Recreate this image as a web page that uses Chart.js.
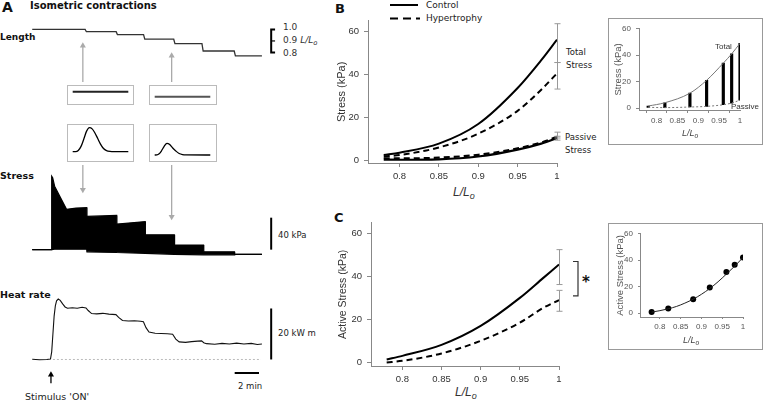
<!DOCTYPE html>
<html>
<head>
<meta charset="utf-8">
<script src="https://cdn.jsdelivr.net/npm/chart.js@4.4.0/dist/chart.umd.min.js"></script>
<style>
html, body { margin: 0; padding: 0; background: #fff; }
#fig { position: relative; width: 763px; height: 403px; overflow: hidden; font-family: "DejaVu Sans", sans-serif; color: #111; }
#fig canvas { position: absolute; }
.t { position: absolute; line-height: 1; white-space: nowrap; transform: translateY(-50%); }
.b { font-weight: bold; }
.ar { font-family: "Liberation Sans", Arial, sans-serif; }
.box { position: absolute; border: 1px solid #bbb; box-sizing: border-box; }
.inset { position: absolute; border: 1px solid #999; box-sizing: border-box; }
sub { font-size: 0.75em; vertical-align: -0.3em; line-height: 0; }
</style>
</head>
<body>
<div id="fig">
  <!-- panel A -->
  <div class="t b" style="left:2px;top:7px;font-size:14px;">A</div>
  <div class="t b" style="left:30px;top:6px;font-size:10px;">Isometric contractions</div>
  <div class="t b" style="left:0;top:37px;font-size:9px;">Length</div>
  <div class="t b" style="left:0;top:176px;font-size:9.5px;">Stress</div>
  <div class="t b" style="left:0;top:295px;font-size:9.5px;">Heat rate</div>
  <div class="t" style="left:283px;top:27px;font-size:9px;color:#333;">1.0</div>
  <div class="t" style="left:283px;top:40px;font-size:9px;color:#333;">0.9 <i>L/L<sub>o</sub></i></div>
  <div class="t" style="left:283px;top:53px;font-size:9px;color:#333;">0.8</div>
  <div class="t" style="left:278px;top:235px;font-size:8.5px;color:#222;">40 kPa</div>
  <div class="t" style="left:278px;top:333px;font-size:8.5px;color:#222;">20 kW m</div>
  <div class="t" style="left:238px;top:386px;font-size:8.5px;color:#222;">2 min</div>
  <div class="t" style="left:25px;top:397px;font-size:9.5px;color:#222;">Stimulus 'ON'</div>

  <div class="box" style="left:67px;top:85px;width:67px;height:20px;"></div>
  <div class="box" style="left:149px;top:85px;width:68px;height:20px;"></div>
  <div class="box" style="left:67px;top:124px;width:67px;height:38px;"></div>
  <div class="box" style="left:149px;top:124px;width:68px;height:38px;"></div>

  <canvas id="lenChart" width="300" height="72" style="left:0;top:15px;"></canvas>
  <canvas id="stressChart" width="300" height="105" style="left:0;top:160px;"></canvas>
  <canvas id="heatChart" width="300" height="110" style="left:0;top:285px;"></canvas>
  <canvas id="lenBox1" width="65" height="18" style="left:68px;top:86px;"></canvas>
  <canvas id="lenBox2" width="66" height="18" style="left:150px;top:86px;"></canvas>
  <canvas id="twitch1" width="65" height="36" style="left:68px;top:125px;"></canvas>
  <canvas id="twitch2" width="66" height="36" style="left:150px;top:125px;"></canvas>

  <!-- panel B -->
  <div class="t b" style="left:335px;top:8px;font-size:13px;">B</div>
  <svg style="position:absolute;left:388px;top:0;" width="34" height="24">
    <line x1="2" y1="5" x2="30" y2="5" stroke="#000" stroke-width="2"/>
    <line x1="2" y1="18.5" x2="32" y2="18.5" stroke="#000" stroke-width="2" stroke-dasharray="8,5"/>
  </svg>
  <div class="t" style="left:426px;top:5px;font-size:9px;color:#222;">Control</div>
  <div class="t" style="left:426px;top:18px;font-size:9px;color:#222;">Hypertrophy</div>
  <div class="t" style="left:566px;top:52px;font-size:8.5px;color:#222;">Total</div>
  <div class="t" style="left:566px;top:65px;font-size:8.5px;color:#222;">Stress</div>
  <div class="t" style="left:565px;top:137px;font-size:8.5px;color:#222;">Passive</div>
  <div class="t" style="left:565px;top:150px;font-size:8.5px;color:#222;">Stress</div>
  <div class="t ar" style="left:453px;top:192px;font-size:12px;color:#333;"><i>L/L<sub>o</sub></i></div>
  <canvas id="bChart" width="245" height="190" style="left:320px;top:10px;"></canvas>

  <div class="inset" style="left:608px;top:18px;width:155px;height:127px;"></div>
  <canvas id="bInset" width="153" height="125" style="left:609px;top:19px;"></canvas>
  <div class="t ar" style="left:715px;top:47px;font-size:8px;color:#333;">Total</div>
  <div class="t ar" style="left:731px;top:107px;font-size:8px;color:#333;">Passive</div>
  <div class="t ar" style="left:682px;top:133px;font-size:9px;color:#444;"><i>L/L<sub>o</sub></i></div>

  <!-- panel C -->
  <div class="t b" style="left:334px;top:217px;font-size:13px;">C</div>
  <div class="t b" style="left:582px;top:282px;font-size:15px;">*</div>
  <div class="t ar" style="left:455px;top:392px;font-size:12px;color:#333;"><i>L/L<sub>o</sub></i></div>
  <canvas id="cChart" width="275" height="190" style="left:320px;top:212px;"></canvas>

  <div class="inset" style="left:608px;top:223px;width:155px;height:127px;"></div>
  <canvas id="cInset" width="153" height="125" style="left:609px;top:224px;"></canvas>
  <div class="t ar" style="left:683px;top:340px;font-size:9px;color:#444;"><i>L/L<sub>o</sub></i></div>
</div>

<script>
// ---- panel A : time course (minutes) ----
const lengthT = [0, 4.35, 4.45, 6.9, 7.0, 9.15, 9.25, 11.63, 11.73, 13.95, 14.05, 16.6, 16.7, 18.88];
const lengthL = [1.0, 1.0, 0.98, 0.98, 0.955, 0.955, 0.915, 0.915, 0.877, 0.877, 0.813, 0.813, 0.77, 0.77];

const stressTopT = [0, 1.55, 1.6, 1.68, 1.84, 2.82, 3.6, 4.48, 4.5, 6.94, 6.96, 9.28, 9.3, 11.68, 11.7, 14.08, 14.1, 16.62, 16.64, 18.88];
const stressTopV = [0, 0, 91.8, 90, 79.4, 50.5, 52.0, 52.5, 41.6, 42.8, 32.0, 35.1, 18.5, 18.5, 5.8, 5.8, -2.7, -2.7, -5.8, -5.8];
const stressBaseT = [0, 1.6, 1.84, 4.48, 4.5, 6.94, 6.96, 9.28, 11.68, 14.08, 16.62, 16.64, 18.88];
const stressBaseV = [0, 0, 0.5, 0.5, -2.7, -3.5, -3.6, -4.6, -5.8, -6.5, -6.5, -5.8, -5.8];

const heatT = [0, 0.6, 1.2, 1.5, 1.6, 1.7, 1.8, 1.9, 2.0, 2.14, 2.3, 2.5, 2.7, 2.9, 3.3, 3.7, 4.1, 4.42, 4.6, 4.88,
  5.3, 5.8, 6.3, 6.88, 7.1, 7.42, 7.9, 8.4, 8.9, 9.14, 9.35, 9.6, 10.1, 10.6, 11.1, 11.54, 11.8, 12.08,
  12.6, 13.1, 13.6, 13.92, 14.1, 14.32, 15.0, 15.6, 16.2, 16.8, 17.4, 18.0, 18.5, 18.88];
const heatV = [0.1, -0.1, 0.0, 0.2, 3, 10, 17, 21, 23, 23.7, 23.2, 21.8, 20.6, 20.1, 20.3, 20.1, 20.5, 20.2, 19.2, 18.0,
  17.9, 18.1, 17.8, 17.6, 16.5, 15.3, 15.1, 15.2, 15.0, 14.8, 12.5, 10.8, 10.3, 10.2, 10.1, 9.9, 8.0, 6.9,
  6.7, 7.0, 7.2, 7.3, 6.6, 6.2, 6.0, 6.3, 6.1, 6.4, 6.1, 6.3, 5.9, 6.1];

// scale bars and annotations of panel A
const scaleBarT = 19.64;
const lengthBar = [0.8, 0.9, 1.0];
const stressBar = [0, 40];
const heatBar = [0, 20];
const timeBar = [16.64, 18.64];
const stimulusT = 1.54;
const arrowT = [4.16, 11.46];

// insets of panel A: single contractions (time 0..1 s)
const boxLength = [1.0, 0.915];
const twitchT1 = [0, 0.05, 0.10, 0.15, 0.20, 0.25, 0.30, 0.35, 0.40, 0.45, 0.50, 0.55, 0.60, 0.67, 0.75, 1.0];
const twitchV1 = [0.5, 0.6, 3, 12, 28, 45, 52.5, 50, 41, 29, 17, 8, 3.5, 1, 0.5, 0.5];
const twitchT2 = [0, 0.04, 0.08, 0.12, 0.17, 0.22, 0.27, 0.32, 0.38, 0.44, 0.50, 0.56, 1.0];
const twitchV2 = [-6.65, -6.4, -4, 2, 12, 18.7, 16, 9, 2, -3.5, -5.8, -6.5, -6.65];

// ---- panel B / C : stress vs length ----
const lengthX = [0.78, 0.80, 0.85, 0.90, 0.95, 0.98, 1.00];
const ctrlTotal = [2.7, 3.8, 8.0, 17.1, 33.8, 46.7, 56.2];
const hypTotal = [2.0, 2.7, 6.2, 12.6, 23.2, 33.0, 40.6];
const ctrlPassive = [0.6, 0.5, 0.7, 2.0, 5.2, 8.0, 10.5];
const hypPassive = [1.2, 1.1, 1.5, 2.8, 5.8, 8.5, 11.2];
const ctrlActive = [1.5, 3.2, 8.3, 17.1, 30.1, 39.4, 45.6];
const hypActive = [0.1, 0.9, 4.3, 10.2, 18.6, 25.5, 29.1];

const totalErrLow = [45.6, 33.3], totalErrHigh = [63.6, 45.6];
const passiveErrLow = [9.6, 10.6], passiveErrHigh = [11.4, 13.3];
const activeErrLow = [36.3, 23.9], activeErrHigh = [52.5, 33.6];
const sigTop = 47, sigBottom = 31;

// insets: single muscle
const stepL = [0.78, 0.82, 0.88, 0.92, 0.96, 0.98, 1.0];
const stepTotal = [1.5, 4, 11.25, 21, 34, 41, 49];
const stepPassive = [0.5, 0.3, 0.75, 1.25, 2.5, 3.75, 6];
const stepActive = [0.75, 3.5, 10.5, 19.25, 31, 36.5, 42];
const fitL = [0.78, 0.80, 0.82, 0.84, 0.86, 0.88, 0.90, 0.92, 0.94, 0.96, 0.98, 1.00];
const fitActive = [0.7, 1.8, 3.2, 5.0, 7.5, 10.5, 14.2, 18.6, 23.7, 29.5, 35.5, 42.0];

function pts(xs, ys) { return xs.map((x, i) => ({ x: x, y: ys[i] })); }
function line(data, o) {
    return Object.assign({ type: 'line', data: data, borderColor: '#000', borderWidth: 1.5,
        pointRadius: 0, fill: false, tension: 0 }, o || {});
}
function bare(xMin, xMax, yMin, yMax) {
    return {
        responsive: false, animation: false, events: [],
        layout: { padding: 0 },
        plugins: { legend: { display: false }, tooltip: { enabled: false } },
        scales: {
            x: { type: 'linear', display: false, min: xMin, max: xMax },
            y: { type: 'linear', display: false, min: yMin, max: yMax }
        }
    };
}
function draw(id, datasets, options, plugins) {
    new Chart(document.getElementById(id), { type: 'line', data: { datasets: datasets }, options: options, plugins: plugins || [] });
}

const tMin = -2.32, tMax = 21.68; // 12.5 px per minute
const grey = '#aaa';
function arrow(x, y0, y1, rot, color) {
    return line(pts([x, x], [y0, y1]), { borderColor: color, borderWidth: 1.3, pointRadius: [0, 3.5],
        pointStyle: 'triangle', pointRotation: rot, pointBackgroundColor: color, pointBorderWidth: 0 });
}

// Length trace
draw('lenChart', [
    line(pts(lengthT, lengthL), { borderColor: '#333', borderWidth: 1.3 }),
    line(pts([scaleBarT + 0.32, scaleBarT, scaleBarT, scaleBarT + 0.32], [lengthBar[2], lengthBar[2], lengthBar[0], lengthBar[0]]), { borderWidth: 2 }),
    line(pts([scaleBarT, scaleBarT + 0.32], [lengthBar[1], lengthBar[1]]), { borderWidth: 1.2 }),
    arrow(arrowT[0], 0.544, 0.859, 0, grey),
    arrow(arrowT[1], 0.544, 0.771, 0, grey)
], bare(tMin, tMax, 0.536, 1.09));

// Stress trace
draw('stressChart', [
    line(pts(stressBaseT, stressBaseV), { borderWidth: 1.2 }),
    line(pts(stressTopT, stressTopV), { borderWidth: 1.2, fill: '-1', backgroundColor: '#000' }),
    line(pts([scaleBarT, scaleBarT], stressBar), { borderWidth: 2 }),
    arrow(arrowT[0], 106, 74.8, 180, grey),
    arrow(arrowT[1], 106, 41.3, 180, grey)
], bare(tMin, tMax, -14.2, 107.17));

// Heat rate trace
draw('heatChart', [
    line(pts([1.7, 18.8], [0, 0]), { borderColor: '#bbb', borderWidth: 1, borderDash: [2, 2] }),
    line(pts(heatT, heatV), { borderWidth: 1.1, borderColor: '#111' }),
    line(pts([scaleBarT, scaleBarT], heatBar), { borderWidth: 2 }),
    line(pts(timeBar, [-5.3, -5.3]), { borderWidth: 2 }),
    arrow(stimulusT, -9.35, -6.0, 0, '#000')
], bare(tMin, tMax, -12.36, 27.64));

// single contraction boxes
draw('lenBox1', [line(pts([0, 1], [boxLength[0], boxLength[0]]), { borderColor: '#222', borderWidth: 2 })], bare(-0.0845, 1.0845, 0.791, 1.097));
draw('lenBox2', [line(pts([0, 1], [boxLength[1], boxLength[1]]), { borderColor: '#555', borderWidth: 2 })], bare(-0.0845, 1.1025, 0.791, 1.097));
draw('twitch1', [line(pts(twitchT1, twitchV1), { borderWidth: 1.3, cubicInterpolationMode: 'monotone' })], bare(-0.0845, 1.0845, -19.65, 58.35));
draw('twitch2', [line(pts(twitchT2, twitchV2), { borderWidth: 1.3, cubicInterpolationMode: 'monotone' })], bare(-0.0845, 1.1025, -19.65, 58.35));

// error bars and significance bracket
const annotPlugin = {
    id: 'annot',
    afterDatasetsDraw(chart, args, o) {
        const ctx = chart.ctx, xs = chart.scales.x, ys = chart.scales.y;
        ctx.save();
        ctx.lineWidth = 1;
        ctx.strokeStyle = '#999';
        (o.bars || []).forEach(b => {
            const px = Math.round(xs.getPixelForValue(b.x)) + 0.5;
            const top = ys.getPixelForValue(b.high), bot = ys.getPixelForValue(b.low);
            ctx.beginPath();
            ctx.moveTo(px, top); ctx.lineTo(px, bot);
            ctx.moveTo(px - 3, top); ctx.lineTo(px + 3, top);
            ctx.moveTo(px - 3, bot); ctx.lineTo(px + 3, bot);
            ctx.stroke();
        });
        if (o.bracket) {
            const bx = xs.getPixelForValue(o.bracket.x);
            const t = ys.getPixelForValue(o.bracket.top), b = ys.getPixelForValue(o.bracket.bottom);
            ctx.strokeStyle = '#333';
            ctx.lineWidth = 1.2;
            ctx.beginPath();
            ctx.moveTo(bx + 14, t); ctx.lineTo(bx + 19, t); ctx.lineTo(bx + 19, b); ctx.lineTo(bx + 14, b);
            ctx.stroke();
        }
        ctx.restore();
    }
};

function fmt(v) { return String(+Number(v).toFixed(2)); }
function axes(c) {
    const tickFont = { family: 'Liberation Sans', size: c.tickSize };
    return {
        x: {
            type: 'linear', min: c.xMin, max: 1.0, offset: false,
            afterFit: s => { s.height = c.xH; },
            ticks: { stepSize: 0.05, includeBounds: false, callback: fmt, color: c.tickColor, font: tickFont, padding: c.xPad, maxRotation: 0, autoSkip: false },
            grid: { drawOnChartArea: false, tickLength: c.tick, color: '#888' },
            border: { color: '#888' }
        },
        y: {
            type: 'linear', min: c.yMin, max: c.yMax,
            afterFit: s => { s.width = c.yW; },
            ticks: { stepSize: 20, includeBounds: false, color: c.tickColor, font: tickFont, padding: c.yPad },
            grid: { drawOnChartArea: false, tickLength: c.tick, color: '#888' },
            border: { color: '#888' },
            title: { display: true, text: c.title, color: c.titleColor, font: { family: 'Liberation Sans', size: c.titleSize }, padding: { top: c.titlePad, bottom: 0 } }
        }
    };
}
function chartOpts(c, annot) {
    return {
        responsive: false, animation: false, events: [],
        layout: { padding: c.pad },
        plugins: { legend: { display: false }, tooltip: { enabled: false }, annot: annot || {} },
        scales: axes(c)
    };
}
function errBars(x, lows, highs) { return lows.map((l, i) => ({ x: x, low: l, high: highs[i] })); }

const dash = [6, 4];

// Panel B
const bCfg = { xMin: 0.76, yMin: -1, yMax: 65, xH: 37, yW: 48, pad: { left: 0, top: 8, right: 8, bottom: 0 },
    tickSize: 9.5, tickColor: '#333', tick: 4, xPad: 4, yPad: 5, title: 'Stress (kPa)', titleColor: '#333', titleSize: 11, titlePad: 15.4 };
const bAnnot = { bars: errBars(1.0, totalErrLow.concat(passiveErrLow), totalErrHigh.concat(passiveErrHigh)) };
draw('bChart', [
    line(pts(lengthX, ctrlPassive), { borderWidth: 2.2, cubicInterpolationMode: 'monotone' }),
    line(pts(lengthX, hypPassive), { borderWidth: 2.2, borderDash: dash, cubicInterpolationMode: 'monotone' }),
    line(pts(lengthX, ctrlTotal), { borderWidth: 2, cubicInterpolationMode: 'monotone' }),
    line(pts(lengthX, hypTotal), { borderWidth: 2, borderDash: dash, cubicInterpolationMode: 'monotone' })
], chartOpts(bCfg, bAnnot), [annotPlugin]);

// Panel C (canvas wider so the bracket fits at the right)
const cCfg = { xMin: 0.76, yMin: -1.5, yMax: 65, xH: 36, yW: 51, pad: { left: 0, top: 10, right: 36, bottom: 0 },
    tickSize: 9.5, tickColor: '#333', tick: 4, xPad: 4, yPad: 5, title: 'Active Stress (kPa)', titleColor: '#333', titleSize: 10.5, titlePad: 16.7 };
const cAnnot = { bars: errBars(1.0, activeErrLow, activeErrHigh), bracket: { x: 1.0, top: sigTop, bottom: sigBottom } };
draw('cChart', [
    line(pts(lengthX, ctrlActive), { borderWidth: 2, cubicInterpolationMode: 'monotone' }),
    line(pts(lengthX, hypActive), { borderWidth: 2, borderDash: dash, cubicInterpolationMode: 'monotone' })
], chartOpts(cCfg, cAnnot), [annotPlugin]);

// Inset B
const biCfg = { xMin: 0.758, yMin: -1.5, yMax: 60, xH: 34, yW: 30, pad: { left: 0, top: 9, right: 22, bottom: 0 },
    tickSize: 8, tickColor: '#555', tick: 3, xPad: 3, yPad: 5, title: 'Stress (kPa)', titleColor: '#555', titleSize: 9.5, titlePad: 3.3 };
draw('bInset', [
    line(pts(stepL, stepTotal), { borderColor: '#777', borderWidth: 1, cubicInterpolationMode: 'monotone' }),
    line(pts(stepL, stepPassive), { borderColor: '#777', borderWidth: 1, borderDash: [2, 2], cubicInterpolationMode: 'monotone' }),
    { type: 'bar', data: stepL.map((l, i) => ({ x: l, y: [stepPassive[i], stepTotal[i]] })), backgroundColor: '#000', barThickness: 2.5 }
], chartOpts(biCfg));

// Inset C
const ciCfg = { xMin: 0.752, yMin: -3, yMax: 60, xH: 32, yW: 31, pad: { left: 0, top: 9, right: 19, bottom: 0 },
    tickSize: 8, tickColor: '#555', tick: 2, xPad: 3, yPad: 5, title: 'Active Stress (kPa)', titleColor: '#555', titleSize: 9.5, titlePad: 6 };
draw('cInset', [
    line(pts(fitL, fitActive), { borderColor: '#222', borderWidth: 1, cubicInterpolationMode: 'monotone' }),
    line(pts(stepL, stepActive), { showLine: false, pointRadius: 3, pointBackgroundColor: '#000', pointBorderWidth: 0 })
], chartOpts(ciCfg));
</script>
</body>
</html>
